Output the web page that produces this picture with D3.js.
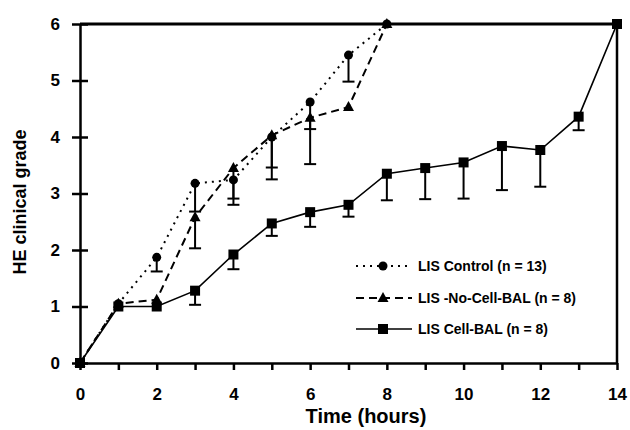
<!DOCTYPE html>
<html>
<head>
<meta charset="utf-8">
<script src="https://cdn.jsdelivr.net/npm/d3@7"></script>
<style>
	body { margin: 0; background: #fff; }
	svg { display: block; font-family: "Liberation Sans", Arial, sans-serif; font-weight: bold; }
</style>
</head>
<body>
<div id="chart"></div>
<script>
const xTicks = [0, 2, 4, 6, 8, 10, 12, 14]
const xMinorTicks = [1, 3, 5, 7, 9, 11, 13]
const yTicks = [0, 1, 2, 3, 4, 5, 6]

const controlHours = [0, 1, 2, 3, 4, 5, 6, 7, 8]
const controlMean = [0, 1.05, 1.87, 3.18, 3.24, 4.0, 4.62, 5.45, 6.0]
const controlLower = [null, null, 1.62, 2.68, 2.91, 3.46, 4.14, 4.98, null]

const noCellHours = [0, 1, 2, 3, 4, 5, 6, 7, 8]
const noCellMean = [0, 1.05, 1.12, 2.58, 3.45, 4.03, 4.34, 4.53, 6.0]
const noCellLower = [null, null, null, 2.03, 2.8, 3.25, 3.52, null, null]

const cellHours = [0, 1, 2, 3, 4, 5, 6, 7, 8, 9, 10, 11, 12, 13, 14]
const cellMean = [0, 1.0, 1.0, 1.28, 1.92, 2.47, 2.67, 2.8, 3.35, 3.45, 3.55, 3.84, 3.77, 4.36, 6.0]
const cellLower = [null, null, null, 1.03, 1.66, 2.25, 2.41, 2.59, 2.88, 2.9, 2.91, 3.06, 3.12, 4.12, null]

const legendLabels = ["LIS Control (n = 13)", "LIS -No-Cell-BAL (n = 8)", "LIS Cell-BAL (n = 8)"]

const width = 630
const height = 430
const margin = { top: 24, right: 13, bottom: 67, left: 80 }

const x = d3.scaleLinear().domain([0, 14]).range([margin.left, width - margin.right])
const y = d3.scaleLinear().domain([0, 6]).range([height - margin.bottom, margin.top])

const svg = d3.select("#chart").append("svg").attr("width", width).attr("height", height)

const series = [
	{ hours: controlHours, mean: controlMean, lower: controlLower, marker: "circle", dash: "2,5", width: 2 },
	{ hours: noCellHours, mean: noCellMean, lower: noCellLower, marker: "triangle", dash: "8,5", width: 2 },
	{ hours: cellHours, mean: cellMean, lower: cellLower, marker: "square", dash: null, width: 1.6 }
]

// frame on top and right
svg.append("line")
	.attr("x1", x(0)).attr("x2", x(14))
	.attr("y1", y(6)).attr("y2", y(6))
	.attr("stroke", "#000").attr("stroke-width", 3)
svg.append("line")
	.attr("x1", x(14)).attr("x2", x(14))
	.attr("y1", y(0)).attr("y2", y(6))
	.attr("stroke", "#000").attr("stroke-width", 2.5)

// axes
const yAxis = svg.append("g")
	.attr("transform", `translate(${x(0)},0)`)
	.call(d3.axisLeft(y).tickValues(yTicks).tickSize(8).tickSizeOuter(0).tickPadding(12).tickFormat(d3.format("d")))
yAxis.select(".domain").attr("stroke-width", 2.5)
yAxis.selectAll(".tick line").attr("x1", -8).attr("x2", 8).attr("stroke-width", 2.5)
yAxis.selectAll(".tick text").attr("font-size", 17).attr("fill", "#000").attr("font-family", null).attr("font-weight", "bold")

const xAxis = svg.append("g")
	.attr("transform", `translate(0,${y(0)})`)
	.call(d3.axisBottom(x).tickValues(xTicks.concat(xMinorTicks)).tickSize(7).tickSizeOuter(0).tickPadding(18)
		.tickFormat(d => (xTicks.includes(d) ? d : "")))
xAxis.select(".domain").attr("stroke-width", 2.5)
xAxis.selectAll(".tick line").attr("stroke-width", 2.5)
xAxis.selectAll(".tick text").attr("font-size", 17).attr("fill", "#000").attr("font-family", null).attr("font-weight", "bold")

svg.append("text")
	.attr("x", 366).attr("y", 423)
	.attr("text-anchor", "middle")
	.attr("font-size", 20)
	.text("Time (hours)")

svg.append("text")
	.attr("transform", `translate(26,${202}) rotate(-90)`)
	.attr("text-anchor", "middle")
	.attr("font-size", 18)
	.text("HE clinical grade")

const drawMarker = (g, type, cx, cy) => {
	if (type === "circle") {
		g.append("circle").attr("cx", cx).attr("cy", cy).attr("r", 4.5).attr("fill", "#000")
	} else if (type === "square") {
		g.append("rect").attr("x", cx - 5).attr("y", cy - 5).attr("width", 10).attr("height", 10).attr("fill", "#000")
	} else {
		g.append("path").attr("d", `M${cx},${cy - 6} L${cx + 5.5},${cy + 4} L${cx - 5.5},${cy + 4} Z`).attr("fill", "#000")
	}
}

series.forEach(s => {
	const pts = s.hours.map((h, i) => ({ h, m: s.mean[i], lo: s.lower[i] }))
	const line = d3.line().x(d => x(d.h)).y(d => y(d.m))
	svg.append("path")
		.datum(pts)
		.attr("fill", "none")
		.attr("stroke", "#000")
		.attr("stroke-width", s.width)
		.attr("stroke-dasharray", s.dash)
		.attr("d", line)

	const g = svg.append("g")
	pts.filter(d => d.lo !== null).forEach(d => {
		g.append("line")
			.attr("x1", x(d.h)).attr("x2", x(d.h))
			.attr("y1", y(d.m)).attr("y2", y(d.lo))
			.attr("stroke", "#000").attr("stroke-width", 2)
		g.append("line")
			.attr("x1", x(d.h) - 6).attr("x2", x(d.h) + 6)
			.attr("y1", y(d.lo)).attr("y2", y(d.lo))
			.attr("stroke", "#000").attr("stroke-width", 2)
	})
	pts.forEach(d => drawMarker(g, s.marker, x(d.h), y(d.m)))
})

// legend
const legendY = [266, 298, 329]
const legend = svg.append("g")
series.forEach((s, i) => {
	legend.append("line")
		.attr("x1", 356).attr("x2", 412)
		.attr("y1", legendY[i]).attr("y2", legendY[i])
		.attr("stroke", "#000")
		.attr("stroke-width", s.width)
		.attr("stroke-dasharray", s.dash)
	drawMarker(legend, s.marker, 383, legendY[i])
	legend.append("text")
		.attr("x", 418).attr("y", legendY[i])
		.attr("dy", "0.35em")
		.attr("font-size", 14)
		.text(legendLabels[i])
})
</script>
</body>
</html>
